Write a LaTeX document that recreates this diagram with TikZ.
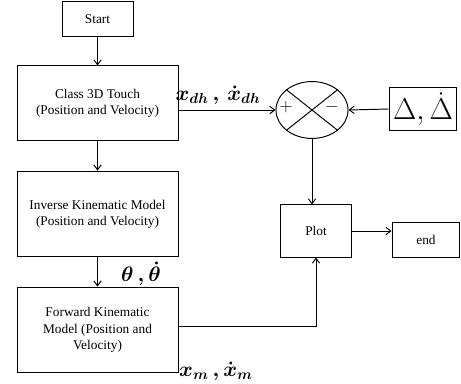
\documentclass[tikz,border=0pt]{standalone}
\usepackage{fontspec}
\setmainfont{Liberation Serif}
\usepackage{amsmath}
\usepackage{tikz}
\usetikzlibrary{arrows.meta, positioning, shapes.geometric}
\tikzset{
  block/.style={draw, rectangle, align=center, font=\fontsize{11}{13.5}\selectfont},
  sumnode/.style={draw, ellipse, minimum width=2.09cm, minimum height=1.65cm, inner sep=0pt},
  siglabel/.style={font=\LARGE\boldmath, inner sep=0pt}
}

\begin{document}
\begin{tikzpicture}[thick, >={Straight Barb[length=4pt, width=6pt]}, x=0.029cm, y=-0.029cm]
        \useasboundingbox (0,0) rectangle (461,383);

        % Nodes
        \node[block, minimum width=2.06cm, minimum height=0.99cm] (start) at (97.5, 19) {Start};
        \node[block, minimum width=4.67cm, minimum height=2.15cm] (class) at (97.5, 103) {Class 3D Touch\\(Position and Velocity)};
        \node[block, minimum width=4.67cm, minimum height=2.49cm] (inverse) at (97.5, 214) {Inverse Kinematic Model\\(Position and Velocity)};
        \node[block, minimum width=4.67cm, minimum height=2.49cm] (forward) at (97.5, 330) {Forward Kinematic\\Model (Position and\\Velocity)};
        \node[sumnode] (sum) at (312, 110) {};
        \node[block, minimum width=1.97cm, minimum height=1.22cm, inner sep=1pt] (delta) at (423, 109) {\Huge $\Delta,\dot{\Delta}$};
        \node[block, minimum width=2.06cm, minimum height=1.51cm] (plot) at (316, 231) {Plot};
        \node[block, minimum width=1.97cm, minimum height=0.99cm] (end) at (426, 240) {end};

        % Summing junction
        \draw (sum.north west) -- (sum.south east);
        \draw (sum.north east) -- (sum.south west);
        \node[font=\Large, inner sep=0pt] (plus) at (286, 107) {$+$};
        \node[font=\Large, inner sep=0pt] (minus) at (332, 107) {$-$};

        % Signal labels
        \node[siglabel] (xdh) at (218, 95) {$x_{dh}\,,\,\dot{x}_{dh}$};
        \node[siglabel] (theta) at (141, 274) {$\theta\,,\dot{\theta}$};
        \node[siglabel] (xm) at (216, 371) {$x_{m}\,,\dot{x}_{m}$};

        % Directed edges
        \draw[->] (start) -- (class);
        \draw[->] (class) -- (inverse);
        \draw[->] (inverse) -- (forward);
        \draw[->] (class.east |- sum.west) -- (sum.west);
        \draw[->] (delta.west) -- (sum.east);
        \draw[->] (sum.south) -- (sum.south |- plot.north);
        \draw[->] ([yshift=0.09cm]forward.east) -| (plot.south);
        \draw[->] (plot.east) -- (plot.east -| end.west);
    \end{tikzpicture}
\end{document}
